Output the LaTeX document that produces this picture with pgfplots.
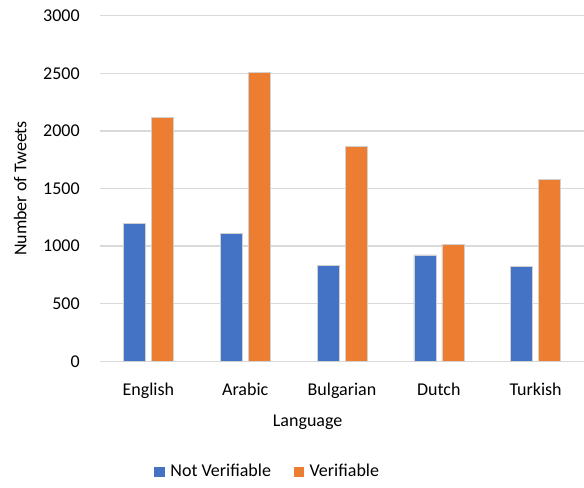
\documentclass[border=0pt]{standalone}
\usepackage{pgfplots}
\pgfplotsset{compat=1.18}
\usepackage{fontspec}
\setmainfont{Carlito}
\definecolor{xlblue}{HTML}{4472C4}
\definecolor{xlorange}{HTML}{ED7D31}
\definecolor{xlgrid}{HTML}{D9D9D9}

\begin{document}
\fontsize{13.5pt}{16pt}\selectfont
\begin{tikzpicture}
    \begin{axis}[
        scale only axis,
        width=363pt, height=259.2pt, % plot area, 484x346 px
        ybar=4.5pt,
        bar width=16.5pt,
        xmin=-0.5, xmax=4.5,
        ymin=0, ymax=3000,
        xtick=data,
        xticklabels={English, Arabic, Bulgarian, Dutch, Turkish},
        ytick={0,500,...,3000},
        major tick length=0pt,
        axis x line*=bottom,
        axis y line*=left,
        x axis line style={draw=xlgrid, line width=1pt, -},
        y axis line style={draw=none},
        ymajorgrids=true,
        grid style={draw=xlgrid, line width=1pt},
        /pgf/number format/assume math mode=true,
        /pgf/number format/1000 sep={},
        yticklabel style={anchor=east, inner sep=0pt, xshift=-15pt},
        xticklabel style={anchor=base, inner sep=0pt, yshift=-25.5pt},
        xlabel={Language},
        xlabel style={at={(axis description cs:0.429,0)}, anchor=base, inner sep=0pt, yshift=-49pt},
        ylabel={Number of Tweets},
        ylabel style={at={(axis description cs:-0.165,0.5)}, anchor=center},
        legend style={
            at={(0.35,-0.32)}, anchor=center,
            draw=none, legend columns=2,
            /tikz/every even column/.append style={column sep=13pt},
            font=\fontsize{13.5pt}{16pt}\selectfont,
            /tikz/every node/.append style={inner xsep=4pt},
        },
        legend image code/.code={
            \draw[#1, draw=none] (0pt,-4pt) rectangle (8pt,4pt);
        },
        enlarge x limits=false,
        clip=false,
    ]
    \addplot[fill=xlblue, draw=white!82!black, line width=0.3pt]
        coordinates {(0,1195) (1,1111) (2,833) (3,923) (4,822)};
    \addlegendentry{Not Verifiable}
    \addplot[fill=xlorange, draw=white!82!black, line width=0.3pt]
        coordinates {(0,2120) (1,2511) (2,1869) (3,1018) (4,1582)};
    \addlegendentry{Verifiable}
    \end{axis}
    \pgfresetboundingbox
    \useasboundingbox ([xshift=-75pt,yshift=-94.3pt]current axis.south west)
        rectangle ([yshift=11.8pt]current axis.north east);
\end{tikzpicture}
\end{document}
